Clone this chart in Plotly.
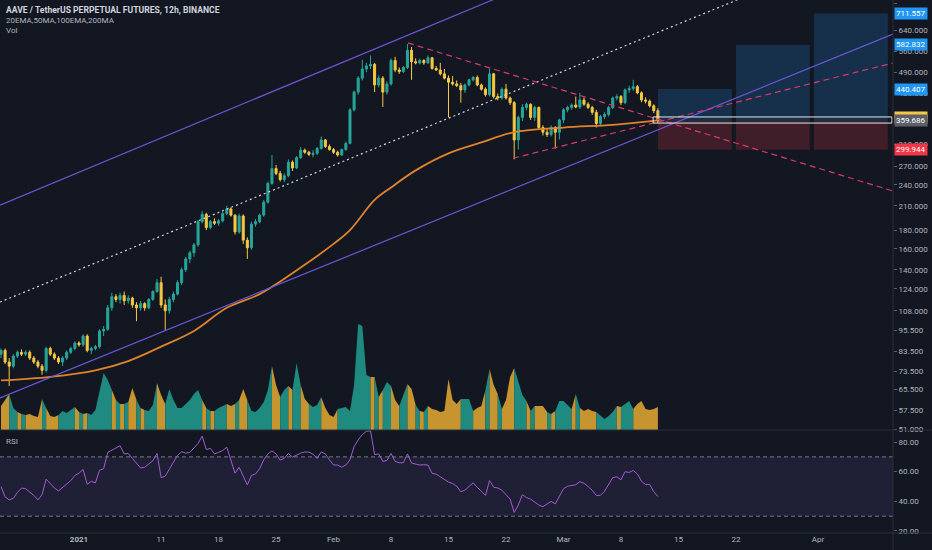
"""AAVE / TetherUS perpetual, 12h candles, rendu style TradingView"""
import math

import pandas as pd
import plotly.graph_objects as go

BG = "#131722"
TXT = "#b2b5be"
UP = "#26a69a"
DOWN = "#f7c843"
VOL_UP = "#1f8a80"
VOL_DOWN = "#c6952f"

# bougies 12h
times = pd.date_range("2020-12-22 12:00", periods=161, freq="12h")

opens = [82, 84, 78, 76, 81, 83, 82, 83, 80, 78,
         76, 74, 85, 82, 80, 78, 80, 83, 85, 88,
         87, 92, 84, 85, 86, 95, 96, 110, 118, 116,
         119, 115, 117, 112, 110, 113, 110, 116, 122, 129,
         112, 108, 116, 120, 129, 140, 150, 156, 164, 190,
         199, 183, 190, 188, 191, 200, 206, 198, 178, 197,
         169, 161, 187, 190, 198, 215, 242, 266, 258, 248,
         254, 277, 267, 285, 299, 295, 291, 293, 302, 319,
         306, 300, 295, 290, 300, 312, 386, 432, 472, 500,
         510, 515, 452, 472, 432, 455, 528, 497, 492, 505,
         563, 524, 520, 528, 520, 537, 502, 497, 485, 472,
         460, 455, 450, 438, 452, 467, 474, 452, 440, 425,
         485, 420, 416, 440, 416, 404, 319, 368, 392, 400,
         368, 392, 345, 335, 330, 345, 335, 362, 386, 392,
         398, 393, 411, 400, 392, 380, 354, 370, 375, 392,
         416, 420, 404, 438, 442, 447, 430, 411, 408, 396,
         384]
highs = [85, 85, 80, 82, 84, 84.5, 84, 84, 81, 79,
         77, 86, 86, 83, 81, 81, 84, 86, 89, 89,
         93, 93, 86, 87, 96, 98, 112, 121, 120, 121,
         122, 119, 118, 114, 115, 114, 117, 123, 132, 134,
         116, 118, 122, 131, 142, 152, 158, 166, 192, 203,
         201, 192, 194, 193, 203, 210, 208, 199, 200, 199,
         172, 190, 193, 200, 218, 245, 290, 272, 262, 258,
         282, 280, 288, 305, 302, 298, 299, 305, 326, 321,
         310, 303, 298, 302, 316, 390, 436, 478, 530, 520,
         545, 520, 480, 478, 462, 535, 540, 505, 510, 586,
         575, 535, 534, 532, 545, 540, 510, 520, 500, 480,
         478, 465, 458, 456, 470, 478, 480, 456, 445, 500,
         488, 428, 445, 455, 420, 408, 372, 400, 404, 402,
         396, 394, 350, 342, 350, 348, 365, 390, 396, 402,
         420, 430, 418, 405, 396, 386, 374, 380, 396, 420,
         426, 424, 442, 450, 467, 452, 434, 418, 412, 400,
         390]
lows = [80, 77, 67, 75, 80, 81, 81, 79, 77, 75,
        72, 73, 81, 79, 77, 76, 79, 82, 84, 86,
        86, 83, 82, 84, 85, 92, 95, 108, 114, 113,
        112, 113, 110, 101, 108, 108, 109, 115, 121, 110,
        95, 106, 114, 119, 127, 138, 146, 152, 162, 188,
        180, 181, 186, 185, 189, 198, 196, 175, 176, 165,
        150, 159, 184, 188, 196, 213, 240, 255, 245, 244,
        252, 262, 265, 283, 292, 288, 286, 290, 300, 303,
        298, 292, 287, 288, 298, 310, 382, 425, 465, 490,
        500, 432, 445, 393, 425, 450, 490, 485, 488, 500,
        467, 515, 515, 514, 516, 498, 494, 480, 468, 368,
        450, 446, 404, 430, 448, 462, 448, 436, 420, 420,
        415, 410, 412, 412, 398, 282, 300, 360, 385, 362,
        360, 342, 328, 325, 326, 302, 320, 355, 380, 386,
        390, 388, 396, 388, 374, 345, 348, 364, 370, 388,
        410, 398, 400, 430, 436, 426, 405, 402, 392, 378,
        355]
closes = [84, 78, 76, 81, 83, 82, 83, 80, 78, 76,
          74, 85, 82, 80, 78, 80, 83, 85, 88, 87,
          92, 84, 85, 86, 95, 96, 110, 118, 116, 119,
          115, 117, 112, 110, 113, 110, 116, 122, 129, 112,
          108, 116, 120, 129, 140, 150, 156, 164, 190, 199,
          183, 190, 188, 191, 200, 206, 198, 178, 197, 169,
          161, 187, 190, 198, 215, 242, 266, 258, 248, 254,
          277, 267, 285, 299, 295, 291, 293, 302, 319, 306,
          300, 295, 290, 300, 312, 386, 432, 472, 500, 510,
          515, 452, 472, 432, 455, 528, 497, 492, 505, 563,
          524, 520, 528, 520, 537, 502, 497, 485, 472, 460,
          455, 450, 438, 452, 467, 474, 452, 440, 425, 485,
          420, 416, 440, 416, 404, 319, 368, 392, 400, 368,
          392, 345, 335, 330, 345, 335, 362, 386, 392, 398,
          393, 411, 400, 392, 380, 354, 370, 375, 392, 416,
          420, 404, 438, 442, 447, 430, 411, 408, 396, 384,
          359.686]
volumes = [24, 30, 36, 22, 18, 16, 15, 16, 14, 13,
           31, 22, 14, 13, 15, 19, 17, 20, 23, 18,
           16, 17, 15, 20, 40, 57, 50, 40, 30, 26,
           26, 28, 42, 30, 22, 20, 19, 25, 47, 35,
           26, 41, 30, 22, 22, 26, 30, 36, 40, 30,
           22, 19, 19, 22, 24, 26, 24, 26, 30, 41,
           30, 19, 18, 22, 28, 40, 64, 45, 33, 40,
           44, 40, 67, 45, 31, 26, 23, 25, 33, 22,
           15, 13, 21, 22, 23, 19, 45, 106, 104, 55,
           53, 53, 33, 40, 48, 44, 30, 24, 35, 46,
           41, 25, 19, 18, 24, 21, 20, 18, 19, 51,
           30, 26, 31, 31, 31, 19, 22, 24, 40, 61,
           45, 36, 21, 30, 53, 62, 48, 35, 29, 19,
           24, 24, 24, 18, 16, 19, 29, 29, 25, 21,
           36, 22, 19, 21, 19, 18, 14, 11, 14, 18,
           24, 23, 26, 29, 21, 26, 29, 21, 20, 21,
           23]
rsi = [50, 43, 41, 42, 46, 49, 48.5, 46.5, 44, 41,
       44.5, 55, 52, 49, 47, 49.5, 51.5, 54, 57.5, 59,
       61.5, 51.5, 53.5, 52.5, 61, 62, 73, 74.6, 76, 77.5,
       72, 72.3, 69, 66, 62.5, 63, 65, 67.4, 72.3, 56,
       57, 61.5, 65.6, 71, 73.5, 72.5, 73, 76, 79, 84,
       75, 75.7, 72, 73, 74.3, 76.5, 67, 59, 63, 57,
       51, 57.5, 58.5, 62, 68, 72, 74, 72, 67.8, 69,
       72.3, 69.8, 71.2, 72.5, 73.3, 73.2, 71.8, 69, 73.3, 72,
       68, 64.5, 64.5, 63, 64.5, 68, 77, 81.5, 85, 87.2,
       87.6, 71.5, 72, 67, 67.5, 72.3, 67, 66, 66, 72,
       65.8, 65.2, 64.5, 64.7, 64.5, 58.9, 58.3, 56.6, 55, 53,
       52, 50.2, 46.5, 47.5, 50, 52.5, 49.5, 47, 44, 54,
       49.5, 49, 47.5, 44.5, 41.5, 32.5, 37.5, 44.5, 42.5, 41.5,
       39.5, 37.5, 36.4, 38, 40, 38.3, 43.5, 48.5, 50.2, 50.7,
       51.2, 53.3, 52.2, 50, 47.5, 44, 44, 46.8, 51.5, 56,
       56.6, 54.5, 60, 59.5, 60.8, 58.5, 53.5, 51.4, 51.4, 46.5,
       43.2]

# moyenne mobile (ligne orange)
ema_dates = ["2020-12-22 12:00", "2020-12-28 12:00", "2021-01-03", "2021-01-07",
             "2021-01-11", "2021-01-15", "2021-01-19", "2021-01-23", "2021-01-28",
             "2021-02-01", "2021-02-03", "2021-02-06", "2021-02-08", "2021-02-11",
             "2021-02-15", "2021-02-19", "2021-02-23", "2021-03-01", "2021-03-07",
             "2021-03-12 12:00"]
ema_values = [69.4, 71, 74, 78.5, 86, 95, 110, 120, 142, 165, 180, 218, 236, 263,
              293, 314, 335, 345, 351, 361]

# tracés (date, prix)
LEFT, RIGHT = "2020-12-22 09:06", "2021-04-10 03:10"
channel_top = [211, 2233]
channel_bottom = [62.1, 624.4]
mid_line = [114.1, 1162]
wedge_top_dates = ["2021-02-10 01:40", RIGHT]
wedge_top = [590, 230.7]
wedge_bottom_dates = ["2021-02-22 20:40", RIGHT]
wedge_bottom = [284, 519.6]

# position longue
entry = 359.686
stop = 299.944
targets = [440.407, 582.832, 711.557]
target_starts = ["2021-03-12 12:00", "2021-03-22 00:00", "2021-03-31 12:00"]
target_ends = ["2021-03-21 12:00", "2021-03-31 00:00", "2021-04-09 12:00"]
entry_band = [355, 369]
entry_band_dates = ["2021-03-11 22:00", "2021-04-10 00:00"]

price_ticks = [51, 57.5, 65.5, 73.5, 83.5, 95.5, 108, 124, 140, 160, 180, 210,
               240, 270, 310, 370, 430, 490, 560, 640, 760]
rsi_ticks = [20, 40, 60, 80]
date_ticks = ["2021-01-01", "2021-01-11", "2021-01-18", "2021-01-25", "2021-02-01",
              "2021-02-08", "2021-02-15", "2021-02-22", "2021-03-01", "2021-03-08",
              "2021-03-15", "2021-03-22", "2021-04-01"]
date_labels = ["<b>2021</b>", "11", "18", "25", "Feb", "8", "15", "22", "Mar", "8",
               "15", "22", "Apr"]

PANE = 0.1932  # limite prix / RSI (fraction verticale)


def main():
    fig = Figure_base()

    # volume : une aire par suite de bougies de meme sens
    up = [c >= o for o, c in zip(opens, closes)]
    start = 0
    for i in range(1, len(up) + 1):
        if i == len(up) or up[i] != up[start]:
            a = max(start - 1, 0)
            fig.add_trace(go.Scatter(
                x=times[a:i], y=volumes[a:i], yaxis="y2", mode="lines",
                line=dict(width=0), fill="tozeroy",
                fillcolor=VOL_UP if up[start] else VOL_DOWN, hoverinfo="skip"))
            start = i

    # zones de la position
    for x0, x1, top in zip(target_starts, target_ends, targets):
        fig.add_trace(go.Scatter(
            x=[x0, x1, x1, x0, x0], y=[entry, entry, top, top, entry], yaxis="y3",
            mode="lines", line=dict(width=0), fill="toself",
            fillcolor="rgba(33,150,243,0.2)", hoverinfo="skip"))
        fig.add_trace(go.Scatter(
            x=[x0, x1, x1, x0, x0], y=[stop, stop, entry, entry, stop], yaxis="y3",
            mode="lines", line=dict(width=0), fill="toself",
            fillcolor="rgba(242,54,69,0.2)", hoverinfo="skip"))

    fig.add_trace(go.Candlestick(
        x=times, open=opens, high=highs, low=lows, close=closes, yaxis="y3",
        increasing=dict(line=dict(color=UP, width=1), fillcolor=UP),
        decreasing=dict(line=dict(color=DOWN, width=1), fillcolor=DOWN),
        hoverinfo="skip"))

    fig.add_trace(go.Scatter(x=ema_dates, y=ema_values, yaxis="y3", mode="lines",
                             line=dict(color="#e0832a", width=1.8, shape="spline"),
                             hoverinfo="skip"))

    for ys, col, dash in [(channel_top, "#7152d4", "solid"),
                          (channel_bottom, "#6a58d8", "solid"),
                          (mid_line, "#d1d4dc", "2px,3px")]:
        fig.add_trace(go.Scatter(x=[LEFT, RIGHT], y=ys, yaxis="y3", mode="lines",
                                 line=dict(color=col, width=1.2, dash=dash),
                                 hoverinfo="skip"))
    for xs, ys in [(wedge_top_dates, wedge_top), (wedge_bottom_dates, wedge_bottom)]:
        fig.add_trace(go.Scatter(x=xs, y=ys, yaxis="y3", mode="lines",
                                 line=dict(color="#d63a6a", width=1.2, dash="6px,4px"),
                                 hoverinfo="skip"))

    bx = entry_band_dates
    fig.add_trace(go.Scatter(
        x=[bx[0], bx[1], bx[1], bx[0], bx[0]],
        y=[entry_band[0], entry_band[0], entry_band[1], entry_band[1], entry_band[0]],
        yaxis="y3", mode="lines", line=dict(color="#e8e8e8", width=1), hoverinfo="skip"))

    # RSI
    fig.add_trace(go.Scatter(x=times, y=rsi, yaxis="y", mode="lines",
                             line=dict(color="#a35bd2", width=1), hoverinfo="skip"))

    # page sans marge blanche autour du graphique, sans barre d'outils
    fig.write_html("out.html", config={"displayModeBar": False},
                   post_script="document.body.style.margin='0';"
                               "document.body.style.background='#131722';")


def Figure_base():
    fig = go.Figure()
    fig.update_layout(
        width=932, height=550, margin=dict(l=0, r=39, t=0, b=17),
        paper_bgcolor=BG, plot_bgcolor=BG, showlegend=False, hovermode=False,
        font=dict(family="Roboto, sans-serif", size=8, color=TXT),
        xaxis=dict(type="date", range=[LEFT, RIGHT], rangeslider=dict(visible=False),
                   showgrid=False, zeroline=False, showline=False, ticks="",
                   tickvals=date_ticks, ticktext=date_labels, anchor="y",
                   tickfont=dict(size=8, color=TXT)),
        yaxis=dict(domain=[0, PANE], range=[18.65, 88.1], side="right",
                   tickvals=rsi_ticks, ticktext=[f"{v:.2f}" for v in rsi_ticks],
                   showgrid=False, zeroline=False, ticks="outside", ticklen=3,
                   tickcolor="#5d606b", anchor="x", tickfont=dict(size=8, color=TXT)),
        yaxis2=dict(domain=[PANE, 1], range=[0, 430], visible=False, anchor="x"),
        yaxis3=dict(overlaying="y2", type="log", range=[1.7049, 2.8891], side="right",
                    tickvals=price_ticks, ticktext=[f"{v:.3f}" for v in price_ticks],
                    showgrid=False, zeroline=False, ticks="outside", ticklen=3,
                    tickcolor="#5d606b", anchor="x", tickfont=dict(size=8, color=TXT)),
    )

    line_col = "#2a2e39"
    fig.add_shape(type="rect", xref="paper", yref="y", x0=0, x1=1, y0=30, y1=70,
                  fillcolor="rgba(126,87,194,0.12)", line=dict(width=0), layer="below")
    for lvl in (70, 30):
        fig.add_shape(type="line", xref="paper", yref="y", x0=0, x1=1, y0=lvl, y1=lvl,
                      line=dict(color="#787b86", width=1, dash="4px,3px"))
    fig.add_shape(type="line", xref="paper", yref="paper", x0=0, x1=1.05, y0=PANE, y1=PANE,
                  line=dict(color=line_col, width=1))
    fig.add_shape(type="line", xref="paper", yref="paper", x0=0, x1=1.05, y0=0, y1=0,
                  line=dict(color=line_col, width=1))
    fig.add_shape(type="line", xref="paper", yref="paper", x0=1, x1=1, y0=-0.05, y1=1,
                  line=dict(color=line_col, width=1))

    # legende en haut a gauche
    heads = [("<b>AAVE / TetherUS PERPETUAL FUTURES, 12h, BINANCE</b>", -3, "#d1d4dc", 8.6),
             ("20EMA,50MA,100EMA,200MA", -14, TXT, 8),
             ("Vol", -24, TXT, 8)]
    for text, shift, col, size in heads:
        fig.add_annotation(text=text, xref="paper", yref="paper", x=0, y=1,
                           xanchor="left", yanchor="top", xshift=4, yshift=shift,
                           showarrow=False, font=dict(size=size, color=col))
    fig.add_annotation(text="RSI", xref="paper", yref="paper", x=0, y=PANE,
                       xanchor="left", yanchor="top", xshift=4, yshift=-5,
                       showarrow=False, font=dict(size=8, color=TXT))

    # etiquettes de prix sur l'axe
    labels = [(711.557, "#2196f3"), (582.832, "#2196f3"), (440.407, "#2196f3"),
              (368, DOWN), (entry, "#5d606b"), (stop, "#f23645")]
    for val, bg in labels:
        fig.add_annotation(text=f"{entry:.3f}" if val == 368 else f"{val:.3f}",
                           xref="paper", yref="y3", x=1, y=math.log10(val),
                           xanchor="left", yanchor="middle", xshift=1,
                           showarrow=False, bgcolor=bg, borderpad=1,
                           font=dict(size=8, color="#ffffff"))
    return fig


if __name__ == "__main__":
    main()
